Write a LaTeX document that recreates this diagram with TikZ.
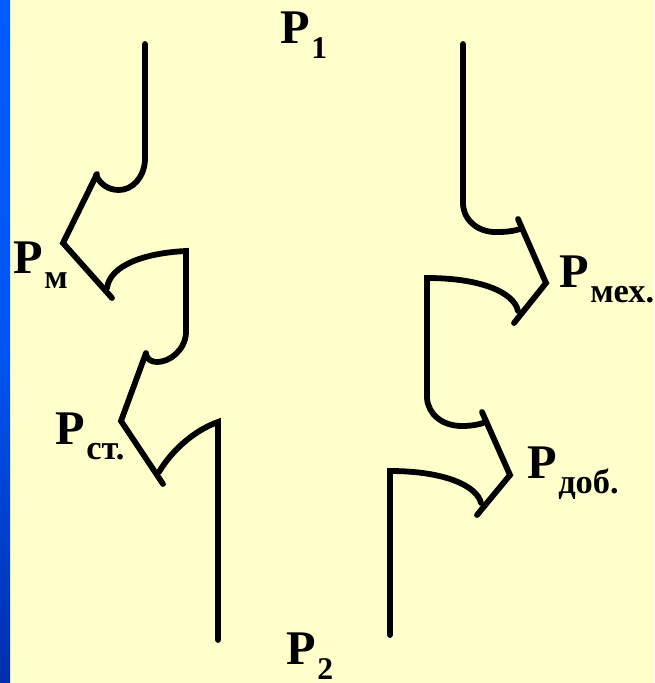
\documentclass[tikz,border=0pt]{standalone}
\usepackage{fontspec}
\setmainfont{Liberation Serif}
\definecolor{fondo}{RGB}{255,255,204}
\definecolor{bandaA}{RGB}{0,92,255}
\definecolor{bandaB}{RGB}{0,46,176}
\newcommand{\letraP}[2][19.6]{\textbf{\fontsize{27.5}{27}\selectfont P}\kern1pt\raisebox{-9pt}{\textbf{\fontsize{#1}{#1}\selectfont #2}}}
\tikzset{
  pared/.style={line width=3.3pt, line cap=round, line join=miter},
  etiqueta/.style={inner sep=0pt, outer sep=0pt, anchor=base west}
}

\begin{document}
\begin{tikzpicture}[x=0.02cm, y=-0.02cm]
  % fondo y banda lateral
  \useasboundingbox (0,0) rectangle (654,683);
  \fill[fondo] (0,0) rectangle (654,683);
  \shade[top color=bandaA, bottom color=bandaB, middle color=bandaA!85!bandaB] (0,0) rectangle (10,683);
  % --- pared izquierda ---
  \draw[pared] (145,44) -- (145,160) .. controls (144,178) and (132,190) .. (119,190)
               .. controls (108,190) and (100,184) .. (96,175);
  \draw[pared] (97,174) -- (63,243) -- (112,298);
  \draw[pared] (107,288) .. controls (110,265) and (145,253) .. (186,251) -- (186,333)
               .. controls (185,350) and (170,362) .. (157,362)
               .. controls (151,362) and (147,359) .. (146,354);
  \draw[pared] (146,353) -- (121,421) -- (163,484);
  \draw[pared] (159,472) .. controls (172,450) and (195,430) .. (218,422) -- (218,640);
  % --- pared derecha ---
  \draw[pared] (463,44) -- (463,204) .. controls (464,222) and (480,233) .. (498,232)
               .. controls (507,232) and (514,231) .. (520,229);
  \draw[pared] (518,219) -- (546,283) -- (514,323);
  \draw[pared] (518,311) .. controls (514,292) and (480,278) .. (427,278) -- (427,398)
               .. controls (428,414) and (442,426) .. (462,426)
               .. controls (470,426) and (477,425) .. (483,423);
  \draw[pared] (482,412) -- (510,475) -- (477,515);
  \draw[pared] (481,503) .. controls (477,486) and (445,471) .. (390,471) -- (390,635);
  % etiquetas
  \node[etiqueta] (p1) at (280,43) {\letraP[18]{1}};
  \node[etiqueta] (pm) at (13,273) {\letraP{м}};
  \node[etiqueta] (pst) at (55,444) {\letraP{ст.}};
  \node[etiqueta] (pmech) at (559,287) {\letraP{мех.}};
  \node[etiqueta] (pdob) at (527,478) {\letraP{доб.}};
  \node[etiqueta] (p2) at (286,664) {\letraP[18]{2}};
\end{tikzpicture}
\end{document}
